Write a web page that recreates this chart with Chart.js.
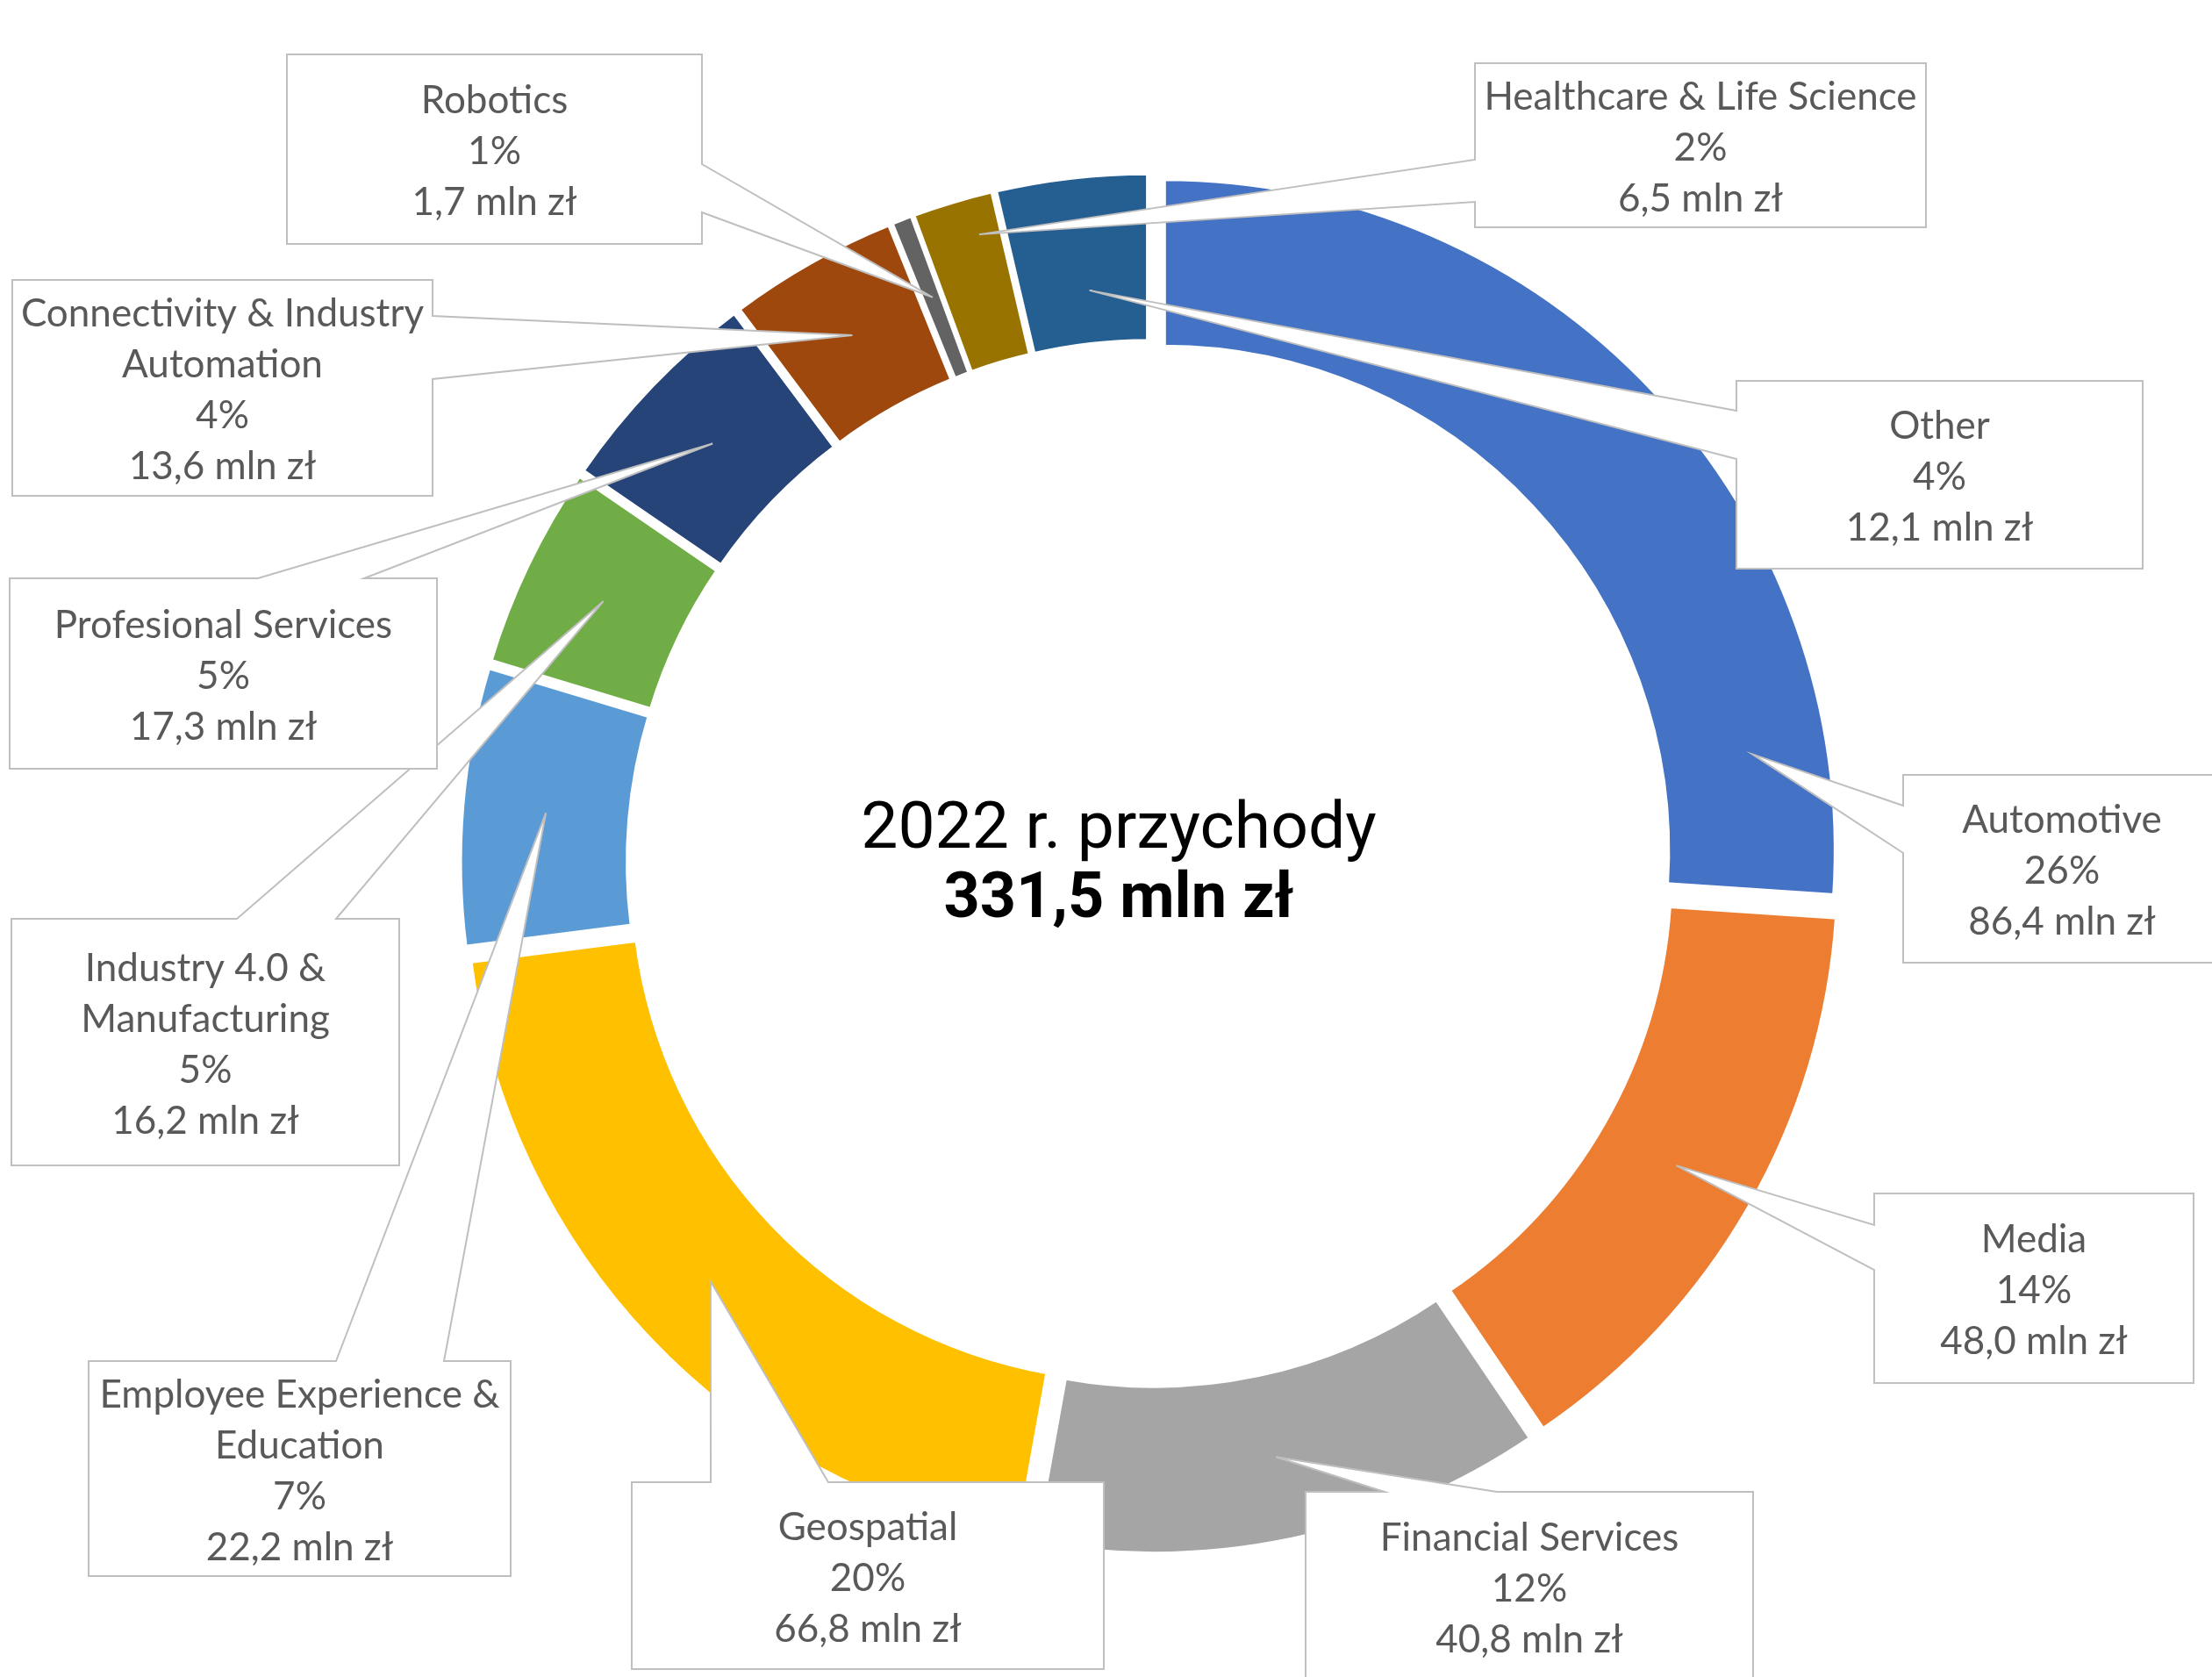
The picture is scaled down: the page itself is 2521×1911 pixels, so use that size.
<!DOCTYPE html>
<html>
<head>
<meta charset="utf-8">
<title>Przychody 2022</title>
<script src="https://cdn.jsdelivr.net/npm/chart.js@4.4.1/dist/chart.umd.min.js"></script>
<style>
  html, body { margin: 0; padding: 0; background: #fff; }
  canvas { display: block; }
</style>
</head>
<body>
<canvas id="revenueChart" width="2521" height="1911"></canvas>
<script>
// Revenue by business segment, mln zł (clockwise from 12 o'clock)
const segments = [
  'Automotive', 'Media', 'Financial Services', 'Geospatial',
  ['Employee Experience &', 'Education'], ['Industry 4.0 &', 'Manufacturing'],
  'Profesional Services', ['Connectivity & Industry', 'Automation'],
  'Robotics', 'Healthcare & Life Science', 'Other'
];
const revenue = [86.4, 48.0, 40.8, 66.8, 22.2, 16.2, 17.3, 13.6, 1.7, 6.5, 12.1];
const colors = ['#4472c4', '#ed7d31', '#a5a5a5', '#ffc000', '#5b9bd5', '#70ad47',
  '#264478', '#9e480e', '#636363', '#997300', '#255e91'];
const centerTitle = '2022 r. przychody';
const centerTotal = '331,5 mln zł';

// label boxes: rectangle, side the pointer leaves from, pointer base on that side,
// and where the tip sits inside its slice (share of the angle, share of the ring)
const callouts = [
  { x: 2169, y: 883,  w: 362, h: 214, side: 'left',  base: [918, 972],   tip: [0.86, 0.55] },
  { x: 2136, y: 1360, w: 364, h: 216, side: 'left',  base: [1396, 1447], tip: [0.5, 0.5] },
  { x: 1488, y: 1700, w: 510, h: 216, side: 'top',   base: [1578, 1706], tip: [0.5, 0.5] },
  { x: 720,  y: 1689, w: 538, h: 213, side: 'top',   base: [810, 944],   tip: [0.5, 0.5] },
  { x: 101,  y: 1551, w: 481, h: 245, side: 'top',   base: [383, 506],   tip: [0.5, 0.5] },
  { x: 13,   y: 1047, w: 442, h: 281, side: 'top',   base: [270, 383],   tip: [0.5, 0.5] },
  { x: 11,   y: 659,  w: 487, h: 217, side: 'top',   base: [294, 415],   tip: [0.5, 0.5] },
  { x: 14,   y: 319,  w: 479, h: 246, side: 'right', base: [360, 432],   tip: [0.5, 0.5] },
  { x: 327,  y: 62,   w: 473, h: 216, side: 'right', base: [187, 242],   tip: [0.55, 0.5] },
  { x: 1681, y: 72,   w: 514, h: 187, side: 'left',  base: [182, 230],   tip: [0.71, 0.77] },
  { x: 1979, y: 434,  w: 463, h: 214, side: 'left',  base: [468, 523],   tip: [0.54, 0.32] }
];

const EXPLODE = 21;          // every slice pulled out from the centre
const LABEL_FONT = '44px Lato';
const LINE_H = 58;
const TITLE_FONT = '400 75px Roboto';
const TOTAL_FONT = '700 72px Roboto';

const total = revenue.reduce((a, b) => a + b, 0);
const fmt = v => v.toFixed(1).replace('.', ',') + ' mln zł';

// draw the slices shifted outward along their middle angle
const explodedSlices = {
  id: 'explodedSlices',
  beforeDatasetDraw(chart, args) {
    const ctx = chart.ctx;
    args.meta.data.forEach(arc => {
      const mid = (arc.startAngle + arc.endAngle) / 2;
      ctx.save();
      ctx.translate(Math.cos(mid) * EXPLODE, Math.sin(mid) * EXPLODE);
      arc.draw(ctx);
      ctx.restore();
    });
    return false;
  }
};

function calloutPath(ctx, b, tx, ty) {
  const right = b.x + b.w, bottom = b.y + b.h;
  const [p, q] = b.base;
  ctx.beginPath();
  ctx.moveTo(b.x, b.y);
  if (b.side === 'top') { ctx.lineTo(p, b.y); ctx.lineTo(tx, ty); ctx.lineTo(q, b.y); }
  ctx.lineTo(right, b.y);
  if (b.side === 'right') { ctx.lineTo(right, p); ctx.lineTo(tx, ty); ctx.lineTo(right, q); }
  ctx.lineTo(right, bottom);
  ctx.lineTo(b.x, bottom);
  if (b.side === 'left') { ctx.lineTo(b.x, q); ctx.lineTo(tx, ty); ctx.lineTo(b.x, p); }
  ctx.closePath();
}

const calloutLabels = {
  id: 'calloutLabels',
  afterDatasetsDraw(chart) {
    const ctx = chart.ctx;
    const meta = chart.getDatasetMeta(0);
    ctx.save();
    meta.data.forEach((arc, i) => {
      const b = callouts[i];
      const { x, y, startAngle, endAngle, innerRadius, outerRadius } =
        arc.getProps(['x', 'y', 'startAngle', 'endAngle', 'innerRadius', 'outerRadius'], true);
      const mid = (startAngle + endAngle) / 2;
      const a = startAngle + (endAngle - startAngle) * b.tip[0];
      const r = innerRadius + (outerRadius - innerRadius) * b.tip[1];
      const tx = x + Math.cos(a) * r + Math.cos(mid) * EXPLODE;
      const ty = y + Math.sin(a) * r + Math.sin(mid) * EXPLODE;

      calloutPath(ctx, b, tx, ty);
      ctx.fillStyle = '#ffffff';
      ctx.fill();
      ctx.lineWidth = 2;
      ctx.lineJoin = 'miter';
      ctx.strokeStyle = '#bfbfbf';
      ctx.stroke();

      const name = [].concat(chart.data.labels[i]);
      const value = chart.data.datasets[0].data[i];
      const lines = name.concat([Math.round(value / total * 100) + '%', fmt(value)]);
      ctx.fillStyle = '#595959';
      ctx.font = LABEL_FONT;
      ctx.textAlign = 'center';
      ctx.textBaseline = 'alphabetic';
      const cx = b.x + b.w / 2;
      const cy = b.y + b.h / 2 + 17;
      lines.forEach((t, k) => {
        ctx.fillText(t, cx, cy + (k - (lines.length - 1) / 2) * LINE_H);
      });
    });
    ctx.restore();
  },
  afterDraw(chart) {
    const ctx = chart.ctx;
    ctx.save();
    ctx.fillStyle = '#000000';
    ctx.textAlign = 'center';
    ctx.textBaseline = 'alphabetic';
    ctx.font = TITLE_FONT;
    ctx.fillText(centerTitle, 1275, 966);
    ctx.font = TOTAL_FONT;
    ctx.fillText(centerTotal, 1275, 1045);
    ctx.restore();
  }
};

function build() {
  const ctx = document.getElementById('revenueChart').getContext('2d');
  new Chart(ctx, {
    type: 'doughnut',
    data: {
      labels: segments,
      datasets: [{
        data: revenue,
        backgroundColor: colors,
        borderColor: '#ffffff',
        borderWidth: 5
      }]
    },
    options: {
      responsive: false,
      devicePixelRatio: 1,
      animation: false,
      events: [],
      radius: 766,
      cutout: '75%',
      rotation: 0,
      layout: { padding: { left: 101, top: 57, right: 0, bottom: 0 } },
      plugins: {
        legend: { display: false },
        tooltip: { enabled: false }
      }
    },
    plugins: [explodedSlices, calloutLabels]
  });
}

Promise.all([
  document.fonts.load(LABEL_FONT),
  document.fonts.load(TITLE_FONT),
  document.fonts.load(TOTAL_FONT)
]).then(build, build);
</script>
</body>
</html>
